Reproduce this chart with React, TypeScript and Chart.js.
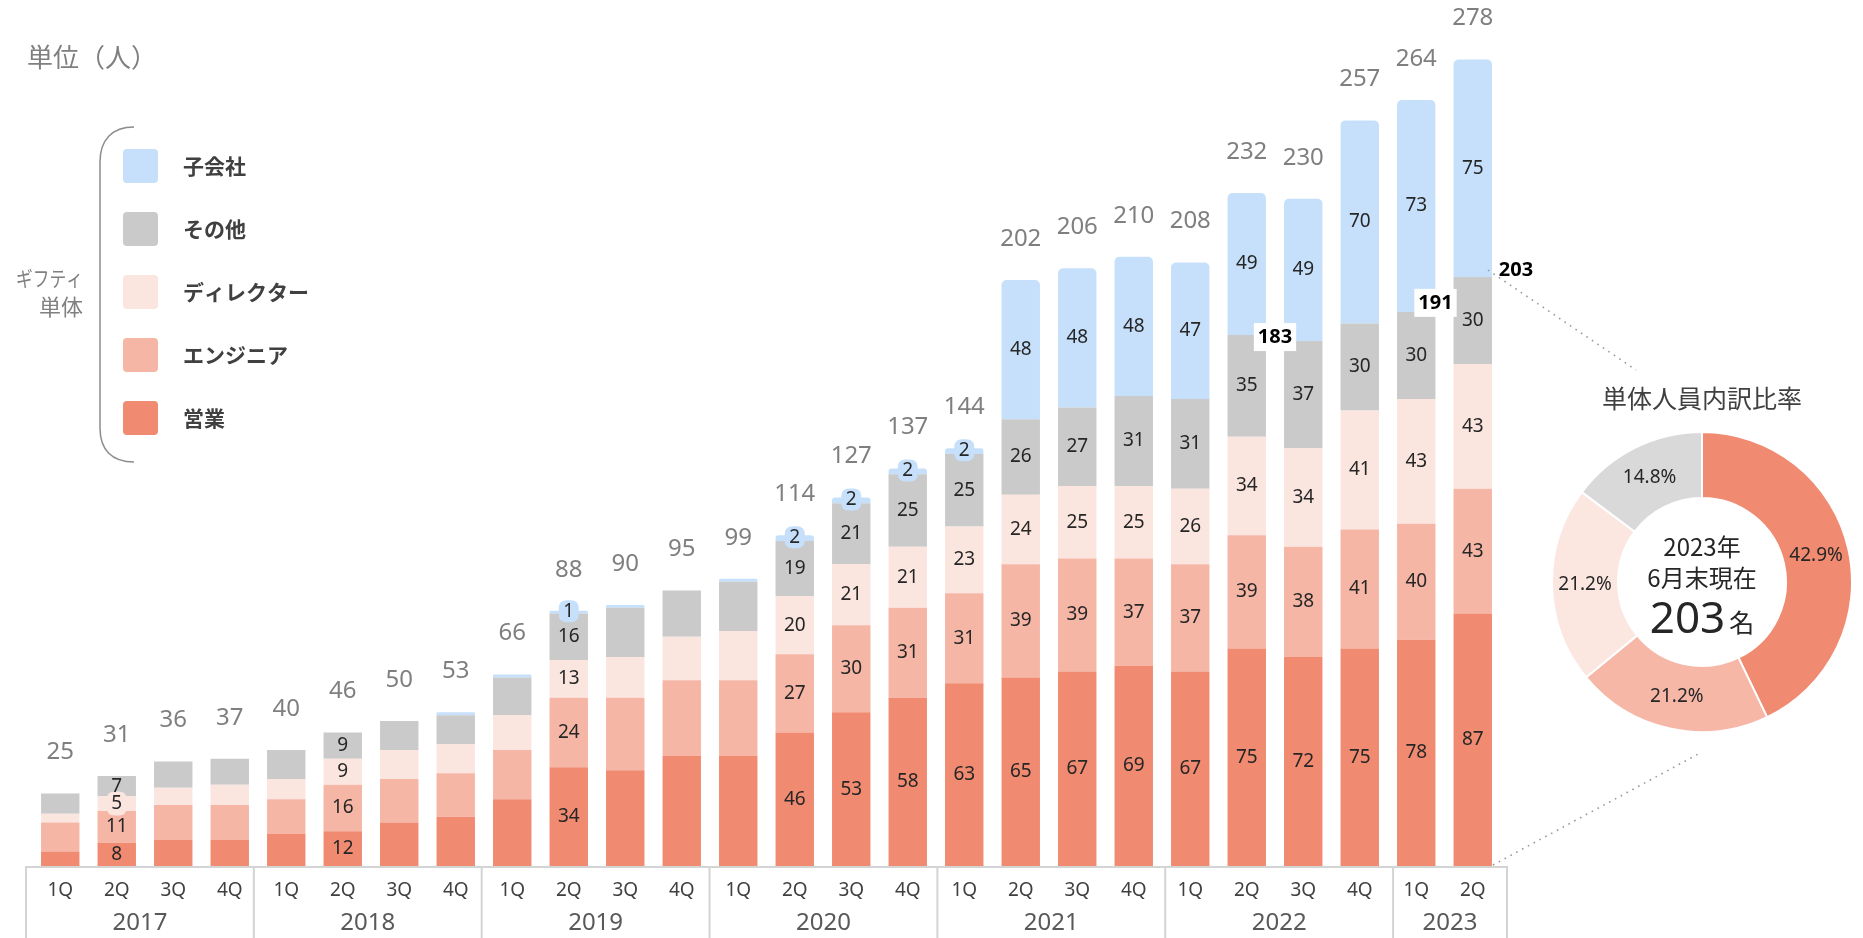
import React, { useEffect, useRef } from "react";
import { Chart, registerables } from "chart.js";

Chart.register(...registerables);

// ---------- data ----------
const quarterLabels = [
  "1Q", "2Q", "3Q", "4Q", "1Q", "2Q", "3Q", "4Q", "1Q", "2Q", "3Q", "4Q", "1Q",
  "2Q", "3Q", "4Q", "1Q", "2Q", "3Q", "4Q", "1Q", "2Q", "3Q", "4Q", "1Q", "2Q",
];
const yearLabels = ["2017", "2018", "2019", "2020", "2021", "2022", "2023"];
const yearQuarterCounts = [4, 4, 4, 4, 4, 4, 2];

const sales = [5, 8, 9, 9, 11, 12, 15, 17, 23, 34, 33, 38, 38, 46, 53, 58, 63, 65, 67, 69, 67, 75, 72, 75, 78, 87];
const engineers = [10, 11, 12, 12, 12, 16, 15, 15, 17, 24, 25, 26, 26, 27, 30, 31, 31, 39, 39, 37, 37, 39, 38, 41, 40, 43];
const directors = [3, 5, 6, 7, 7, 9, 10, 10, 12, 13, 14, 15, 17, 20, 21, 21, 23, 24, 25, 25, 26, 34, 34, 41, 43, 43];
const others = [7, 7, 9, 9, 10, 9, 10, 10, 13, 16, 17, 16, 17, 19, 21, 25, 25, 26, 27, 31, 31, 35, 37, 30, 30, 30];
const subsidiaries = [0, 0, 0, 0, 0, 0, 0, 1, 1, 1, 1, 0, 1, 2, 2, 2, 2, 48, 48, 48, 47, 49, 49, 70, 73, 75];
const totals = [25, 31, 36, 37, 40, 46, 50, 53, 66, 88, 90, 95, 99, 114, 127, 137, 144, 202, 206, 210, 208, 232, 230, 257, 264, 278];

const seriesNames = ["営業", "エンジニア", "ディレクター", "その他", "子会社"];
const legendOrder = ["子会社", "その他", "ディレクター", "エンジニア", "営業"];

const labeledBars = [1, 5, 9, 13, 14, 15, 16, 17, 18, 19, 20, 21, 22, 23, 24, 25];
const bubbleBars = [9, 13, 14, 15, 16];

const calloutValues = [183, 191, 203];
const calloutBars = [21, 24, 25];

const breakdownNames = ["営業", "エンジニア", "ディレクター", "その他"];
const breakdownValues = [87, 43, 43, 30];

// ---------- styles ----------
const COLORS = ["#F08A70", "#F6B6A6", "#FBE5DF", "#CACACA", "#C6E0FB"];
const DONUT_COLORS = ["#F08A70", "#F6B7A7", "#FBE6E0", "#D9D9D9"];
const NUM = '"Noto Sans", "DejaVu Sans", sans-serif';
const JP = '"Noto Sans CJK JP", "Noto Sans", sans-serif';

function text(
  ctx: CanvasRenderingContext2D,
  s: string,
  x: number,
  y: number,
  font: string,
  color: string,
  align: CanvasTextAlign = "center",
  maxW?: number
) {
  ctx.save();
  ctx.font = font;
  ctx.fillStyle = color;
  ctx.textAlign = align;
  ctx.textBaseline = "middle";
  if (maxW) ctx.fillText(s, x, y, maxW);
  else ctx.fillText(s, x, y);
  ctx.restore();
}

function roundRect(ctx: CanvasRenderingContext2D, x: number, y: number, w: number, h: number, r: number) {
  ctx.beginPath();
  ctx.moveTo(x + r, y);
  ctx.lineTo(x + w - r, y);
  ctx.quadraticCurveTo(x + w, y, x + w, y + r);
  ctx.lineTo(x + w, y + h - r);
  ctx.quadraticCurveTo(x + w, y + h, x + w - r, y + h);
  ctx.lineTo(x + r, y + h);
  ctx.quadraticCurveTo(x, y + h, x, y + h - r);
  ctx.lineTo(x, y + r);
  ctx.quadraticCurveTo(x, y, x + r, y);
  ctx.closePath();
}

const decorPlugin = {
  id: "decor",
  afterDraw(chart: any) {
    const ctx: CanvasRenderingContext2D = chart.ctx;
    const xs = chart.scales.x;
    const ys = chart.scales.y;
    const area = chart.chartArea;

    // unit
    text(ctx, "単位（人）", 27, 57, `26px ${JP}`, "#7F7F7F", "left");

    // bracket
    ctx.save();
    ctx.strokeStyle = "#8C8C8C";
    ctx.lineWidth = 1.5;
    ctx.beginPath();
    ctx.moveTo(134, 127);
    ctx.bezierCurveTo(112, 127, 100, 140, 100, 162);
    ctx.lineTo(100, 428);
    ctx.bezierCurveTo(100, 450, 112, 462, 134, 462);
    ctx.stroke();
    ctx.restore();

    text(ctx, "ギフティ", 83, 278, `21px ${JP}`, "#808080", "right", 67);
    text(ctx, "単体", 83, 307, `22px ${JP}`, "#808080", "right");

    // legend
    const rows = [166, 229, 292, 355, 418];
    legendOrder.forEach((name, k) => {
      const idx = seriesNames.indexOf(name);
      ctx.save();
      ctx.fillStyle = COLORS[idx];
      roundRect(ctx, 123, rows[k] - 17, 35, 34, 4);
      ctx.fill();
      ctx.restore();
      text(ctx, name, 183, rows[k], `bold 21px ${JP}`, "#404040", "left");
    });

    // axis boxes (category grid slightly wider than the bar grid)
    const base = area.bottom;
    const boxLeft = area.left - 6;
    const boxRight = area.right + 6;
    const boxStep = (boxRight - boxLeft) / quarterLabels.length;
    ctx.save();
    ctx.strokeStyle = "#D4D4D4";
    ctx.lineWidth = 2;
    ctx.beginPath();
    ctx.moveTo(boxLeft, base + 1);
    ctx.lineTo(boxRight, base + 1);
    let start = 0;
    const edges: number[] = [boxLeft];
    yearQuarterCounts.forEach((c) => {
      start += c;
      edges.push(boxLeft + start * boxStep);
    });
    edges.forEach((e) => {
      ctx.moveTo(e, base);
      ctx.lineTo(e, 938);
    });
    ctx.stroke();
    ctx.restore();

    quarterLabels.forEach((q, i) => {
      text(ctx, q, xs.getPixelForValue(i), 891, `19px ${NUM}`, "#404040");
    });
    yearLabels.forEach((y, k) => {
      text(ctx, y, (edges[k] + edges[k + 1]) / 2, 923, `24px ${NUM}`, "#595959");
    });

    // totals
    totals.forEach((t, i) => {
      const top = ys.getPixelForValue(t);
      text(ctx, String(t), xs.getPixelForValue(i), top - 41, `24px ${NUM}`, "#7F7F7F");
    });

    // segment labels
    const values = [sales, engineers, directors, others, subsidiaries];
    labeledBars.forEach((i) => {
      for (let d = 0; d < 5; d++) {
        const v = values[d][i];
        if (!v) continue;
        const el: any = chart.getDatasetMeta(d).data[i];
        const cy = (el.y + el.base) / 2;
        const h = Math.abs(el.base - el.y);
        if (d === 4 && bubbleBars.includes(i)) {
          ctx.save();
          ctx.fillStyle = COLORS[4];
          roundRect(ctx, el.x - 10, cy - 12, 20, 22, 8);
          ctx.fill();
          ctx.restore();
          text(ctx, String(v), el.x, cy - 1, `19px ${NUM}`, "#262626");
        } else {
          if (h < 17) {
            ctx.save();
            ctx.fillStyle = COLORS[d];
            roundRect(ctx, el.x - 10, cy - 12, 20, 24, 8);
            ctx.fill();
            ctx.restore();
          }
          text(ctx, String(v), el.x, cy, `19px ${NUM}`, "#262626");
        }
      }
    });

    // dotted connectors to doughnut
    const lastEl: any = chart.getDatasetMeta(0).data[25];
    const barRight = lastEl.x + lastEl.width / 2;
    const y203 = ys.getPixelForValue(calloutValues[2]);
    ctx.save();
    ctx.strokeStyle = "#9A9A9A";
    ctx.lineWidth = 1.6;
    ctx.setLineDash([1.6, 5]);
    ctx.beginPath();
    ctx.moveTo(barRight - 4, y203 - 7);
    ctx.lineTo(1636, 370);
    ctx.moveTo(barRight + 1, base - 1);
    ctx.lineTo(1702, 752);
    ctx.stroke();
    ctx.restore();

    // callouts
    calloutValues.forEach((v, k) => {
      const i = calloutBars[k];
      const y = ys.getPixelForValue(v);
      let x: number;
      let yy = y;
      if (k === 2) {
        x = barRight + 24;
        yy = y - 7;
      } else if (k === 1) {
        x = (xs.getPixelForValue(i) + xs.getPixelForValue(i + 1)) / 2 - 9;
        yy = y - 9;
      } else {
        x = (xs.getPixelForValue(i) + xs.getPixelForValue(i + 1)) / 2;
        yy = y + 2;
      }
      ctx.save();
      ctx.font = `bold 20px ${NUM}`;
      const w = ctx.measureText(String(v)).width;
      if (k < 2) {
        ctx.fillStyle = "#FFFFFF";
        ctx.fillRect(x - w / 2 - 4, yy - 14, w + 8, 28);
      }
      ctx.restore();
      text(ctx, String(v), x, yy, `bold 20px ${NUM}`, "#000000");
    });

    // doughnut title
    text(ctx, "単体人員内訳比率", 1702, 398, `25px ${JP}`, "#404040");
  },
};

const donutPlugin = {
  id: "donutText",
  afterDraw(chart: any) {
    const ctx: CanvasRenderingContext2D = chart.ctx;
    const meta = chart.getDatasetMeta(0);
    const sum = breakdownValues.reduce((a, b) => a + b, 0);
    meta.data.forEach((arc: any, i: number) => {
      const p = arc.getCenterPoint();
      const pct = ((breakdownValues[i] / sum) * 100).toFixed(1) + "%";
      text(ctx, pct, p.x, p.y, `19px ${NUM}`, "#262626");
    });
    const cx = (chart.chartArea.left + chart.chartArea.right) / 2;
    const cy = (chart.chartArea.top + chart.chartArea.bottom) / 2;
    text(ctx, "2023年", cx, cy - 35, `24px ${JP}`, "#262626");
    text(ctx, "6月末現在", cx, cy - 4, `24px ${JP}`, "#262626");
    ctx.save();
    ctx.fillStyle = "#262626";
    ctx.textBaseline = "alphabetic";
    ctx.font = `44px ${NUM}`;
    const w1 = ctx.measureText(String(sum)).width;
    ctx.font = `25px ${JP}`;
    const w2 = ctx.measureText("名").width;
    const x0 = cx - (w1 + w2 + 4) / 2;
    ctx.textAlign = "left";
    ctx.font = `44px ${NUM}`;
    ctx.fillText(String(sum), x0, cy + 51);
    ctx.font = `25px ${JP}`;
    ctx.fillText("名", x0 + w1 + 4, cy + 50);
    ctx.restore();
  },
};

export default function App() {
  const barRef = useRef<HTMLCanvasElement>(null);
  const donutRef = useRef<HTMLCanvasElement>(null);

  useEffect(() => {
    const series = [sales, engineers, directors, others, subsidiaries];
    const bar = new Chart(barRef.current as HTMLCanvasElement, {
      type: "bar",
      data: {
        labels: quarterLabels,
        datasets: series.map((d, k) => ({
          label: seriesNames[k],
          data: d,
          backgroundColor: COLORS[k],
          borderWidth: 0,
          borderSkipped: false,
          borderRadius: k === 4 ? { topLeft: 5, topRight: 5, bottomLeft: 0, bottomRight: 0 } : 0,
          barPercentage: 0.68,
          categoryPercentage: 1,
        })),
      },
      options: {
        responsive: false,
        animation: false,
        layout: { padding: { left: 32, right: 362, top: 0, bottom: 72 } },
        plugins: { legend: { display: false }, tooltip: { enabled: false } },
        scales: {
          x: { stacked: true, display: false },
          y: { stacked: true, display: false, min: 0, max: 298.5 },
        },
      },
      plugins: [decorPlugin],
    } as any);

    const donut = new Chart(donutRef.current as HTMLCanvasElement, {
      type: "doughnut",
      data: {
        labels: breakdownNames,
        datasets: [
          {
            data: breakdownValues,
            backgroundColor: DONUT_COLORS,
            borderColor: "#FFFFFF",
            borderWidth: 2,
            hoverOffset: 0,
            offset: 0,
          },
        ],
      },
      options: {
        responsive: false,
        animation: false,
        cutout: "56%",
        rotation: 0,
        layout: { padding: 0 },
        plugins: { legend: { display: false }, tooltip: { enabled: false } },
      },
      plugins: [donutPlugin],
    } as any);

    return () => {
      bar.destroy();
      donut.destroy();
    };
  }, []);

  return (
    <div style={{ position: "fixed", left: 0, top: 0, width: 1863, height: 938, background: "#FFFFFF" }}>
      <canvas ref={barRef} width={1863} height={938} style={{ position: "absolute", left: 0, top: 0 }} />
      <canvas ref={donutRef} width={302} height={302} style={{ position: "absolute", left: 1551, top: 431 }} />
    </div>
  );
}
